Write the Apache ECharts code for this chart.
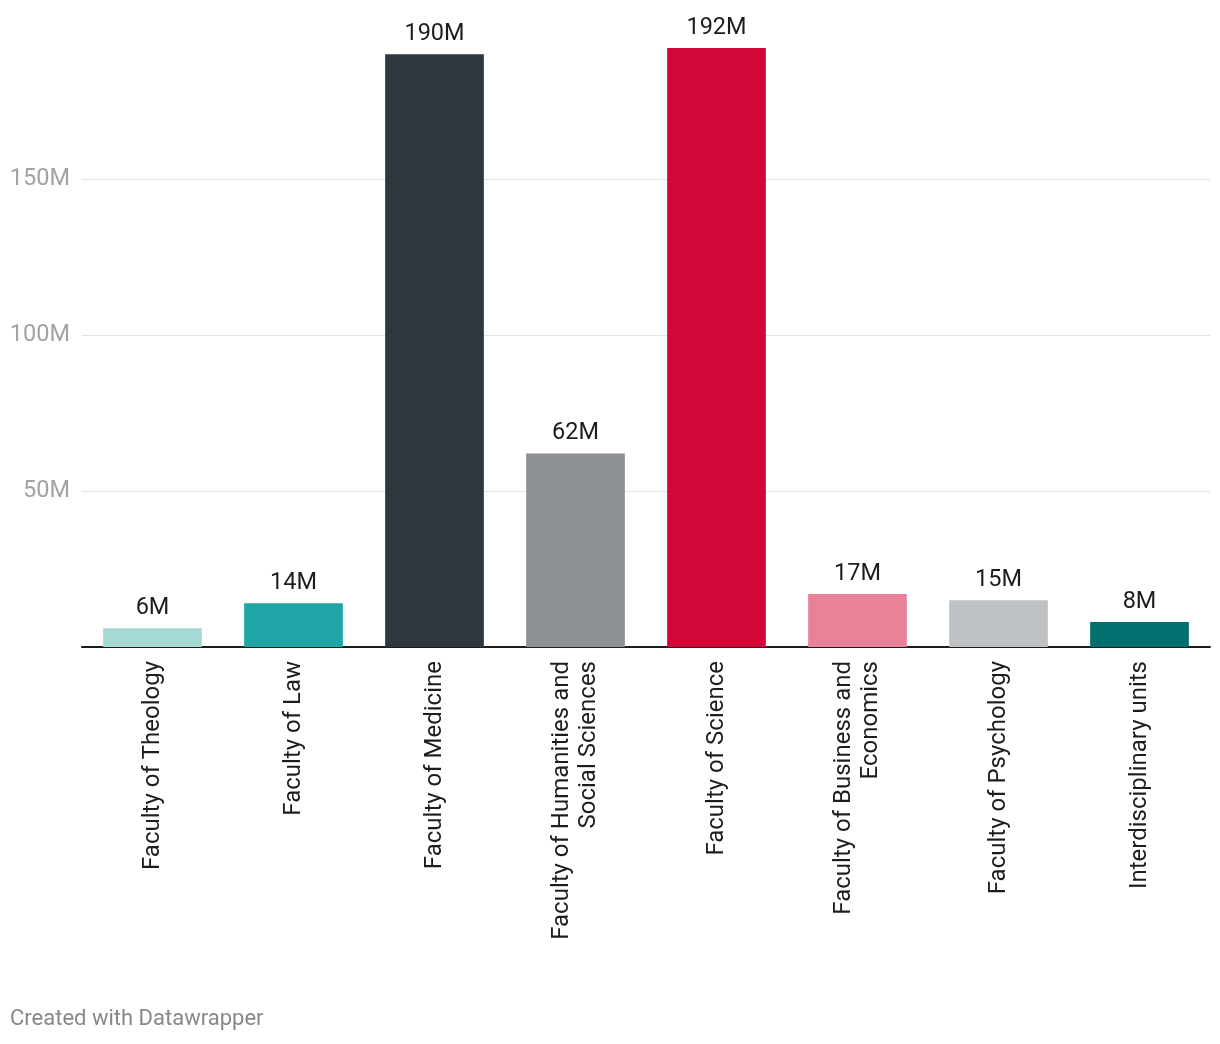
<!DOCTYPE html>
<html><head><meta charset="utf-8">
<script src="https://cdn.jsdelivr.net/npm/echarts@6/dist/echarts.min.js"></script>
<style>html,body{margin:0;padding:0;background:#fff}#c{width:1220px;height:1044px}</style>
</head><body><div id="c"></div>
<script>
const categories = ["Faculty of Theology","Faculty of Law","Faculty of Medicine","Faculty of Humanities and\nSocial Sciences","Faculty of Science","Faculty of Business and\nEconomics","Faculty of Psychology","Interdisciplinary units"];
const values = [6, 14, 190, 62, 192, 17, 15, 8];
const colors = ["#a6d8d4","#1fa5a5","#2f373e","#8c9194","#d30737","#e98199","#bec2c5","#006f6e"];
const yTicks = [0, 50, 100, 150];

const chart = echarts.init(document.getElementById('c'));
chart.setOption({
  animation: false,
  textStyle: {fontFamily: 'Roboto'},
  grid: {left: 82, right: 10, top: 23, bottom: 397, containLabel: false},
  xAxis: {
    type: 'category', data: categories,
    axisLine: {lineStyle: {color: '#1d1d1d', width: 2}},
    axisTick: {show: false},
    axisLabel: {rotate: 90, interval: 0, margin: 14, fontSize: 24, color: '#1d1d1d', lineHeight: 27, fontFamily: 'Roboto'}
  },
  yAxis: {
    type: 'value', min: 0, max: 200, interval: 50,
    axisLine: {show: false}, axisTick: {show: false},
    axisLabel: {showMaxLabel: false, margin: 12, fontSize: 23.5, color: '#a3a3a3', fontFamily: 'Roboto',
      formatter: v => yTicks.includes(v) && v !== 0 ? v + 'M' : ''},
    splitLine: {showMaxLine: false, lineStyle: {color: '#e3e3e3', width: 1}}
  },
  series: [{
    type: 'bar', barCategoryGap: '30%',
    data: values.map((v, i) => ({value: v, itemStyle: {color: colors[i]}})),
    label: {show: true, position: 'top', distance: 8, fontSize: 23.5, color: '#1d1d1d', fontFamily: 'Roboto', formatter: p => p.value + 'M'}
  }],
  graphic: [{type: 'text', left: 10, top: 1008, style: {text: 'Created with Datawrapper', fontSize: 22, fill: '#888', fontFamily: 'Roboto'}}]
});
</script></body></html>
